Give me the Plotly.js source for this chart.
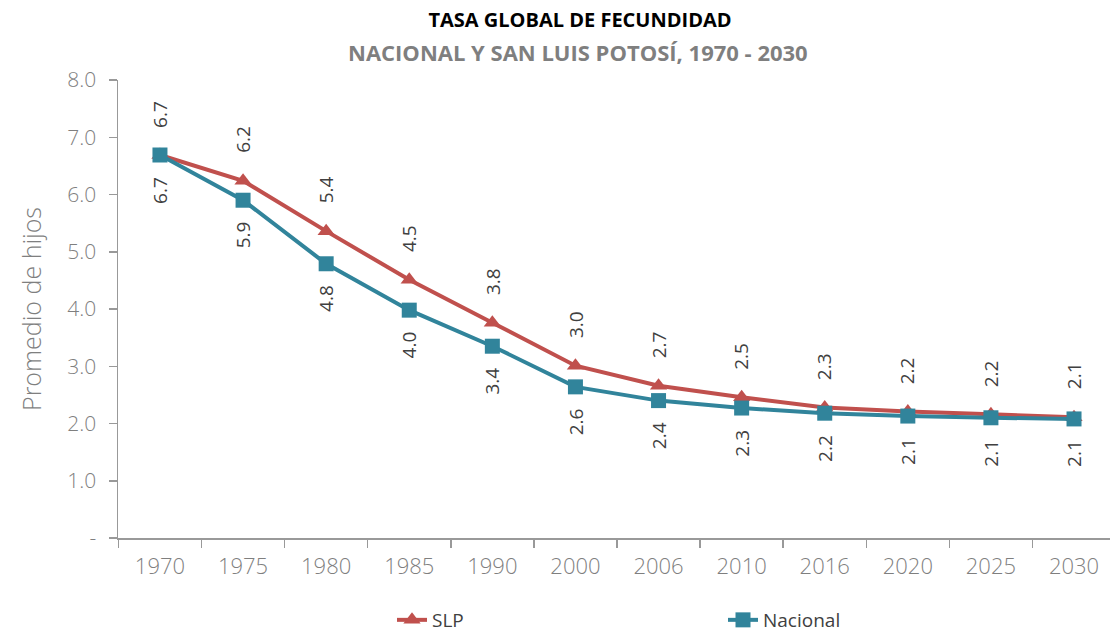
<!DOCTYPE html>
<html>
<head>
<meta charset="utf-8">
<script src="https://cdn.plot.ly/plotly-3.0.1.min.js"></script>
<style>html,body{margin:0;padding:0;background:#fff;}#chart{width:1110px;height:633px;}</style>
</head>
<body>
<div id="chart"></div>
<script>
const years = ["1970","1975","1980","1985","1990","2000","2006","2010","2016","2020","2025","2030"];
const slp = [6.69, 6.24, 5.36, 4.51, 3.76, 3.01, 2.66, 2.46, 2.28, 2.21, 2.16, 2.11];
const nacional = [6.69, 5.90, 4.79, 3.98, 3.35, 2.64, 2.40, 2.27, 2.18, 2.13, 2.10, 2.08];
const yTickVals = [0,1,2,3,4,5,6,7,8];
const yTickText = ["-","1.0","2.0","3.0","4.0","5.0","6.0","7.0","8.0"];

const RED = "#C0504D", TEAL = "#31849B";
const FONT = "'Open Sans', 'Noto Sans', sans-serif";

const traces = [
  {x: years, y: slp, name: "SLP", type: "scatter", mode: "lines+markers",
   line: {color: RED, width: 4}, marker: {symbol: "triangle-up", size: 15, color: RED},
   cliponaxis: false},
  {x: years, y: nacional, name: "Nacional", type: "scatter", mode: "lines+markers",
   line: {color: TEAL, width: 4}, marker: {symbol: "square", size: 15, color: TEAL},
   cliponaxis: false}
];

const annotations = [];
years.forEach((yr, i) => {
  // category axes position annotations by category index
  annotations.push({x: i, y: slp[i], xref: "x", yref: "y", text: slp[i].toFixed(1),
    showarrow: false, textangle: -90, yshift: 41, xanchor: "center", yanchor: "middle",
    font: {family: FONT, size: 19, color: "#404040"}});
  annotations.push({x: i, y: nacional[i], xref: "x", yref: "y", text: nacional[i].toFixed(1),
    showarrow: false, textangle: -90, yshift: -35, xanchor: "center", yanchor: "middle",
    font: {family: FONT, size: 19, color: "#404040"}});
});
annotations.push({xref: "paper", yref: "paper", x: (578 - 118) / 992, y: 1, yshift: 28, xanchor: "center", yanchor: "middle",
  text: "<b>NACIONAL Y SAN LUIS POTOSÍ, 1970 - 2030</b>", showarrow: false,
  font: {family: FONT, size: 22, color: "#7f7f7f"}});

const layout = {
  width: 1110, height: 633,
  margin: {l: 118, r: 0, t: 80, b: 95},
  paper_bgcolor: "#fff", plot_bgcolor: "#fff",
  title: {text: "<b>TASA GLOBAL DE FECUNDIDAD</b>", x: 580/1110, xref: "container", xanchor: "center",
    y: 1 - 20/633, yref: "container", yanchor: "middle",
    font: {family: FONT, size: 20, color: "#000"}},
  xaxis: {type: "category", range: [-0.505, 11.433], tickson: "boundaries",
    ticks: "outside", ticklen: 8, tickcolor: "#999", tickwidth: 1.5,
    showline: true, linecolor: "#999", linewidth: 1.5, showgrid: false, zeroline: false,
    ticklabelstandoff: 8,
    tickfont: {family: FONT, size: 22, color: "#7f7f7f", weight: 300}},
  yaxis: {range: [0, 8], tickvals: yTickVals, ticktext: yTickText,
    ticks: "outside", ticklen: 8, tickcolor: "#999", tickwidth: 1.5,
    showline: true, linecolor: "#999", linewidth: 1.5, showgrid: false, zeroline: false,
    ticklabelstandoff: 8,
    tickfont: {family: FONT, size: 21, color: "#7f7f7f", weight: 300},
    title: {text: "Promedio de hijos", standoff: 18,
      font: {family: FONT, size: 25, color: "#7f7f7f", weight: 300}}},
  showlegend: true,
  legend: {orientation: "h", xref: "container", yref: "container",
    x: 392/1110, xanchor: "left", y: 1 - 620/633, yanchor: "middle",
    entrywidth: 286, entrywidthmode: "pixels", traceorder: "normal",
    font: {family: FONT, size: 19, color: "#404040"}},
  annotations: annotations
};

Plotly.newPlot("chart", traces, layout, {displayModeBar: false, staticPlot: true});
</script>
</body>
</html>
